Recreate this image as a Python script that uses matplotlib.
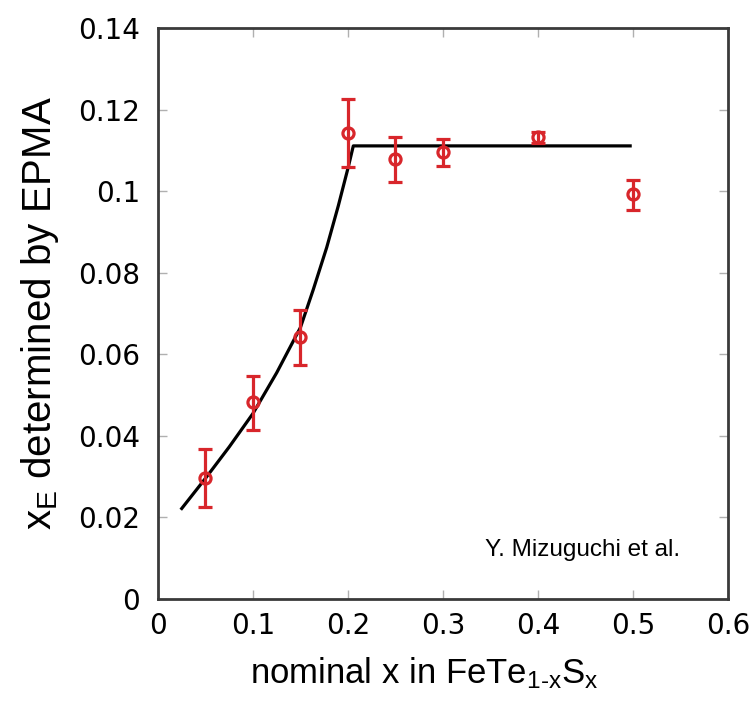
import numpy as np
import matplotlib.pyplot as plt
from matplotlib.ticker import FuncFormatter

# nominal x and EPMA values
x_nom = [0.05, 0.10, 0.15, 0.20, 0.25, 0.30, 0.40, 0.50]
x_epma = [0.0296, 0.0484, 0.0643, 0.1142, 0.1079, 0.1096, 0.1133, 0.0993]
err_hi = [0.0367, 0.0547, 0.0709, 0.1226, 0.1133, 0.1128, 0.1145, 0.1027]
err_lo = [0.0226, 0.0414, 0.0574, 0.1059, 0.1022, 0.1061, 0.1118, 0.0954]

# guide line
line_x = [0.025, 0.05, 0.075, 0.10, 0.125, 0.15, 0.1635, 0.1776, 0.1898, 0.2004, 0.2056, 0.497]
line_y = [0.0222, 0.0296, 0.0373, 0.0455, 0.0555, 0.0666, 0.0759, 0.0862, 0.0964, 0.1060, 0.1111, 0.1111]

plt.rcParams['font.family'] = ['Liberation Sans', 'DejaVu Sans']
plt.rcParams['mathtext.fontset'] = 'custom'
plt.rcParams['mathtext.rm'] = 'Liberation Sans'
plt.rcParams['mathtext.it'] = 'Liberation Sans'

red = '#d8262b'

fig = plt.figure(figsize=(7.53, 7.04), dpi=100)
ax = fig.add_axes([0.2098, 0.1491, 0.757, 0.8111])

ax.plot(line_x, line_y, color='black', lw=2.3, zorder=2, solid_joinstyle='round')

yerr = np.array([np.array(x_epma) - np.array(err_lo), np.array(err_hi) - np.array(x_epma)])
ax.errorbar(x_nom, x_epma, yerr=yerr, fmt='o', color=red, ecolor=red,
            mfc='none', mec=red, mew=2.3, ms=8, elinewidth=2.3,
            capsize=5, capthick=2.3, zorder=3)

ax.set_xlim(0, 0.6)
ax.set_ylim(0, 0.14)
ax.set_xticks(np.arange(0, 0.61, 0.1))
ax.set_yticks(np.arange(0, 0.141, 0.02))
fmt = FuncFormatter(lambda v, p: '%g' % round(v, 3))
ax.xaxis.set_major_formatter(fmt)
ax.yaxis.set_major_formatter(fmt)
ax.tick_params(direction='in', length=6.5, width=1, color='#b0b0b0',
               labelsize=20, top=True, right=True)
ax.tick_params(axis='x', pad=9)
ax.tick_params(axis='y', pad=13)
for lab in ax.get_xticklabels() + ax.get_yticklabels():
    lab.set_family('DejaVu Sans')

for s in ax.spines.values():
    s.set_linewidth(2)
    s.set_color('#3a3a3a')

ax.set_xlabel('nominal x in FeTe$_\\mathregular{1\u2010x}$S$_\\mathregular{x}$', fontsize=25)
ax.xaxis.set_label_coords(0.468, -0.098)
ax.set_ylabel(r'x$_\mathregular{E}$ determined by EPMA', fontsize=29, labelpad=12)

ax.text(0.344, 0.012, 'Y. Mizuguchi et al.', fontsize=17.5, ha='left', va='center')

fig.savefig('out.png', dpi=100)
